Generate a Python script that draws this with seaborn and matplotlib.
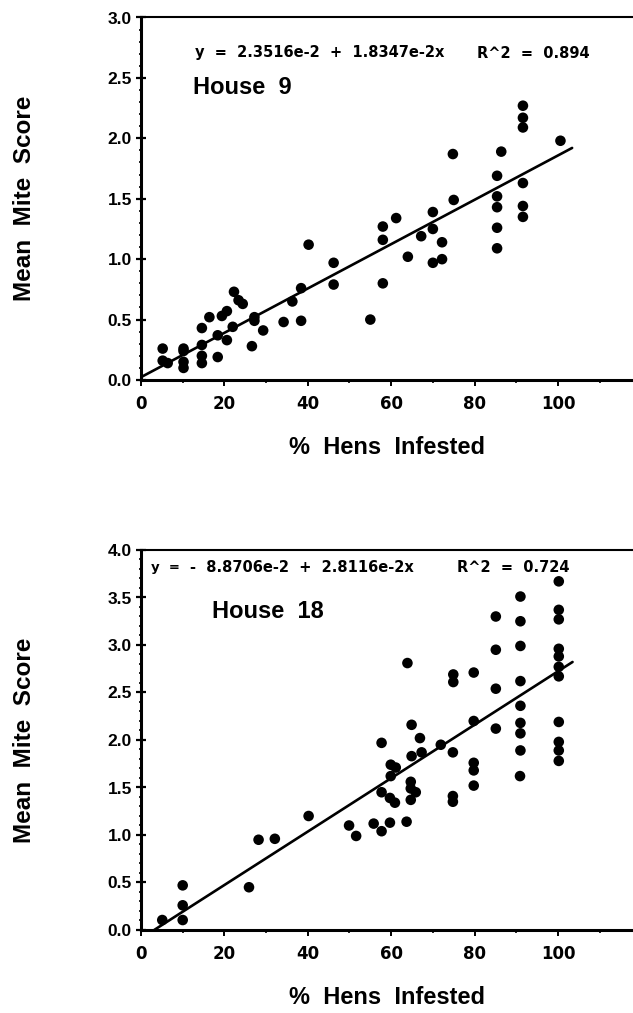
import matplotlib
matplotlib.use("Agg")
import numpy as np
import pandas as pd
import seaborn as sns
import matplotlib.pyplot as plt
from matplotlib.ticker import MultipleLocator, FixedLocator, FormatStrFormatter

# ---------------- data ----------------
house9_pct = [5.2, 5.2, 6.4, 10.2, 10.2, 10.2, 10.2, 14.6, 14.6, 14.6, 14.6, 16.4,
              18.4, 18.4, 19.4, 20.6, 20.6, 22.0, 22.3, 23.4, 24.4, 27.2, 27.2, 26.6,
              29.3, 34.2, 36.3, 38.4, 38.4, 40.2, 46.2, 46.2, 55.0, 58.0, 58.0, 58.0,
              61.2, 64.0, 67.2, 70.0, 70.0, 70.0, 72.2, 72.2, 75.0, 74.8, 85.4, 85.4,
              85.4, 85.4, 85.4, 86.4, 91.6, 91.6, 91.6, 91.6, 91.6, 91.6, 100.6]
house9_score = [0.26, 0.16, 0.14, 0.26, 0.24, 0.15, 0.10, 0.43, 0.29, 0.20, 0.14, 0.52,
                0.19, 0.37, 0.53, 0.57, 0.33, 0.44, 0.73, 0.66, 0.63, 0.52, 0.49, 0.28,
                0.41, 0.48, 0.65, 0.76, 0.49, 1.12, 0.97, 0.79, 0.50, 1.27, 1.16, 0.80,
                1.34, 1.02, 1.19, 1.39, 1.25, 0.97, 1.14, 1.00, 1.49, 1.87, 1.52, 1.43,
                1.26, 1.09, 1.69, 1.89, 1.63, 1.44, 1.35, 2.27, 2.17, 2.09, 1.98]

house18_pct = [5.1, 10.0, 10.0, 10.0, 25.9, 28.2, 32.1, 40.2, 49.9, 51.6, 55.8, 57.7,
               57.7, 57.7, 59.7, 59.7, 59.9, 59.9, 60.9, 61.1, 63.7, 63.9, 64.7, 64.7,
               64.7, 64.9, 64.9, 65.9, 66.9, 67.3, 71.9, 74.8, 74.8, 74.8, 74.9, 74.9,
               79.8, 79.8, 79.8, 79.8, 79.8, 85.1, 85.1, 85.1, 85.1, 91.0, 91.0, 91.0,
               91.0, 91.0, 91.0, 91.0, 91.0, 90.9, 100.2, 100.2, 100.2, 100.2, 100.2,
               100.2, 100.2, 100.2, 100.2, 100.2, 100.2]
house18_score = [0.105, 0.47, 0.26, 0.105, 0.45, 0.95, 0.96, 1.20, 1.10, 0.99, 1.12, 1.04,
                 1.45, 1.97, 1.13, 1.39, 1.62, 1.74, 1.34, 1.71, 1.14, 2.81, 1.56, 1.49,
                 1.37, 1.83, 2.16, 1.45, 2.02, 1.87, 1.95, 1.87, 1.41, 1.35, 2.69, 2.61,
                 2.71, 2.20, 1.76, 1.68, 1.52, 3.30, 2.95, 2.54, 2.12, 3.51, 3.25, 2.99,
                 2.62, 2.36, 2.18, 2.07, 1.89, 1.62, 3.67, 3.37, 3.27, 2.96, 2.88,
                 2.77, 2.67, 2.19, 1.98, 1.89, 1.78]

# printed regression fits: (intercept, slope), and x-extent of drawn line
house9_fit = (0.023516, 0.018347)
house18_fit = (-0.088706, 0.028116)
house9_fit_range = [0.0, 103.4]
house18_fit_range = [3.2, 103.5]

x_tick_values = [0, 20, 40, 60, 80, 100]
x_tick_labels = ["0", "20", "40", "60", "80", "100"]

panel_titles = ["House  9", "House  18"]
eq9_text = "y  =  2.3516e-2  +  1.8347e-2x"
r2_9_text = "R^2  =  0.894"
eq18_y_text = "y  ="
eq18_text = "-  8.8706e-2  +  2.8116e-2x"
r2_18_text = "R^2  =  0.724"
x_label = "%  Hens  Infested"
y_label = "Mean  Mite  Score"

# ---------------- style ----------------
sns.set_theme(style="ticks")
plt.rcParams["font.family"] = ["Liberation Sans", "DejaVu Sans"]
plt.rcParams["font.weight"] = "bold"
plt.rcParams["axes.labelweight"] = "bold"
WIDE = ["DejaVu Sans"]

W, H = 633, 1013
fig = plt.figure(figsize=(W / 100, H / 100), dpi=100)
fig.patch.set_facecolor("white")

ax_left = 141 / W
ax_w = 1 - ax_left
ax1 = fig.add_axes([ax_left, 1 - 380 / H, ax_w, 362.5 / H])
ax2 = fig.add_axes([ax_left, 1 - 930 / H, ax_w, 380 / H])


def draw(ax, xs, ys, fit, fit_range, ymax):
    df = pd.DataFrame({"pct": xs, "score": ys})
    sns.scatterplot(data=df, x="pct", y="score", ax=ax, color="black",
                    s=58, edgecolor="none", linewidth=0, zorder=3)
    fx = np.array(fit_range)
    line_df = pd.DataFrame({"pct": fx, "score": fit[0] + fit[1] * fx})
    sns.lineplot(data=line_df, x="pct", y="score", ax=ax, color="black",
                 linewidth=1.9, zorder=2)
    ax.set_xlim(0, 118)
    ax.set_ylim(0, ymax)
    ax.set_facecolor("white")
    ax.grid(False)
    ax.spines["right"].set_visible(False)
    ax.spines["left"].set_linewidth(2.2)
    ax.spines["bottom"].set_linewidth(2.2)
    ax.spines["top"].set_linewidth(1.5)
    for s in ax.spines.values():
        s.set_color("black")
    ax.xaxis.set_major_locator(FixedLocator(x_tick_values))
    ax.set_xticklabels(x_tick_labels)
    ax.xaxis.set_minor_locator(MultipleLocator(10))
    ax.yaxis.set_major_locator(MultipleLocator(0.5))
    ax.yaxis.set_minor_locator(MultipleLocator(0.1))
    ax.yaxis.set_major_formatter(FormatStrFormatter("%.1f"))
    ax.tick_params(axis="y", which="major", direction="inout", length=7, width=1.6,
                   labelsize=12.5, pad=3, color="black", labelcolor="black")
    ax.tick_params(axis="y", which="minor", direction="inout", length=3, width=1.2,
                   color="black")
    ax.tick_params(axis="x", which="major", direction="out", length=4, width=1.4,
                   labelsize=12, pad=7, color="black", labelcolor="black")
    ax.tick_params(axis="x", which="minor", direction="out", length=2.5, width=1.2,
                   color="black")
    for lab in ax.get_yticklabels():
        lab.set_fontweight("bold")
    for lab in ax.get_xticklabels():
        lab.set_fontweight("bold")
        lab.set_family(WIDE)
    ax.set_xlabel(x_label, fontsize=17, fontweight="bold", color="black", va="center")
    ax.set_ylabel(y_label, fontsize=17.5, fontweight="bold", color="black", va="center")


draw(ax1, house9_pct, house9_score, house9_fit, house9_fit_range, 3.0)
draw(ax2, house18_pct, house18_score, house18_fit, house18_fit_range, 4.0)

ax1.xaxis.set_label_coords(0.5, -67 / 362.5)
ax1.yaxis.set_label_coords((25 - 141) / 492, 0.5)
ax2.xaxis.set_label_coords(0.5, -67 / 380)
ax2.yaxis.set_label_coords((25 - 141) / 492, 0.5)

eq_kw = dict(fontsize=10.5, fontweight="bold", ha="left", va="center",
             color="black", family=WIDE)

# annotations
ax1.text((195 - 141) / 492, (380 - 53) / 362.5, eq9_text, transform=ax1.transAxes, **eq_kw)
ax1.text((477 - 141) / 492, (380 - 53) / 362.5, r2_9_text, transform=ax1.transAxes, **eq_kw)
ax1.text((193 - 141) / 492, (380 - 88) / 362.5, panel_titles[0], transform=ax1.transAxes,
         fontsize=17, fontweight="bold", ha="left", va="center", color="black")

ax2.text((151 - 141) / 492, (930 - 567) / 380, eq18_y_text, transform=ax2.transAxes,
         **{**eq_kw, "fontsize": 9.5})
ax2.text((190 - 141) / 492, (930 - 567) / 380, eq18_text, transform=ax2.transAxes, **eq_kw)
ax2.text((457 - 141) / 492, (930 - 567) / 380, r2_18_text, transform=ax2.transAxes, **eq_kw)
ax2.text((212 - 141) / 492, (930 - 612) / 380, panel_titles[1], transform=ax2.transAxes,
         fontsize=17, fontweight="bold", ha="left", va="center", color="black")

fig.savefig("out.png", dpi=100, facecolor="white")
